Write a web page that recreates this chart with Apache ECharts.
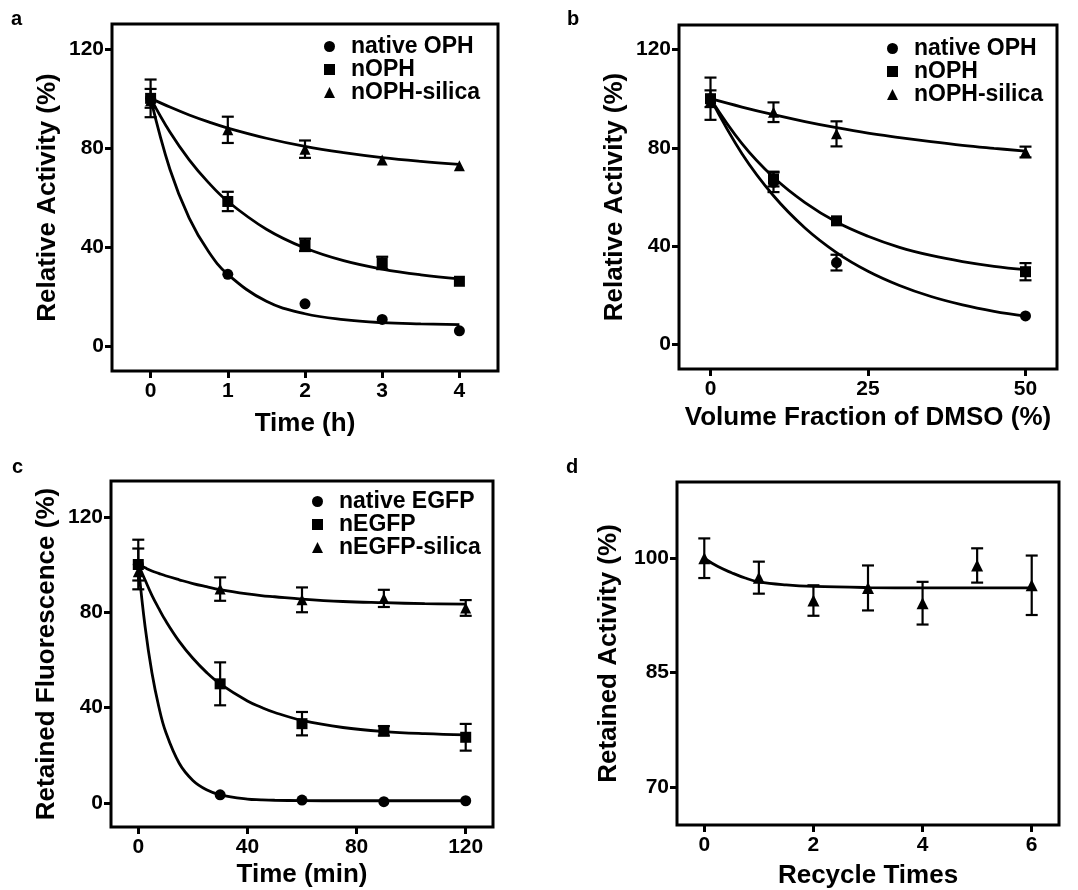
<!DOCTYPE html>
<html><head><meta charset="utf-8">
<script src="https://cdn.jsdelivr.net/npm/echarts@6/dist/echarts.min.js"></script>
<style>html,body{margin:0;padding:0;background:#fff}#c{width:1078px;height:890px}</style>
</head><body><div id="c"></div>
<script>
// ---------- Panel a: Time (h) ----------
const aX = [0, 1, 2, 3, 4];
const aNative = [100, 29, 17.1, 10.8, 6.2];
const aNativeErr = [3.8, 0, 0, 0, 0];
const aNOPH = [100, 58.4, 40.9, 33.6, 26.2];
const aNOPHErr = [7.6, 3.9, 2.5, 2.5, 0];
const aSilica = [99, 87.3, 79.5, 75.1, 72.8];
const aSilicaErr = [0, 5.3, 3.5, 0, 0];
const aFitX = [0, 0.25, 0.5, 0.75, 1, 1.5, 2, 2.5, 3, 3.5, 4];
const aFitNative = [100, 71.4, 51.7, 38.2, 29, 18.1, 13.1, 10.7, 9.5, 9.0, 8.7];
const aFitNOPH = [100, 86.4, 75.2, 66.0, 58.4, 47.2, 39.6, 34.5, 31.1, 28.8, 27.2];
const aFitSilica = [100, 96.5, 93.3, 90.5, 88, 83.9, 80.6, 78.1, 76.1, 74.6, 73.4];
const aXTicks = [0, 1, 2, 3, 4];
const aYTicks = [0, 40, 80, 120];

// ---------- Panel b: DMSO fraction (%) ----------
const bX = [0, 10, 20, 50];
const bNative = [100, 66, 33.3, 11.6];
const bNativeErr = [3.4, 4, 3.2, 0];
const bNOPH = [100, 67.3, 50.3, 29.6];
const bNOPHErr = [8.6, 3, 0, 3.5];
const bSilica = [99, 94.5, 85.7, 78.3];
const bSilicaErr = [0, 4, 5.1, 2.2];
const bFitX = [0, 5, 10, 15, 20, 25, 30, 35, 40, 45, 50];
const bFitNative = [100, 77.6, 60.5, 47.4, 37.4, 29.8, 24, 19.5, 16.1, 13.5, 11.5];
const bFitNOPH = [100, 81.7, 68, 57.7, 49.8, 44, 39.5, 36.2, 33.7, 31.8, 30.4];
const bFitSilica = [100, 96.6, 93.5, 90.7, 88.2, 86, 84.2, 82.5, 81, 79.8, 78.7];
const bXTicks = [0, 25, 50];
const bYTicks = [0, 40, 80, 120];

// ---------- Panel c: Time (min) ----------
const cX = [0, 30, 60, 90, 120];
const cNative = [100, 3.5, 1.3, 0.6, 1.0];
const cNativeErr = [6.7, 0, 0, 0, 0];
const cNEGFP = [100, 50, 33.3, 30.3, 27.6];
const cNEGFPErr = [10.4, 9, 4.9, 2, 5.6];
const cSilica = [97, 89.7, 85.2, 85.8, 81.8];
const cSilicaErr = [0, 4.9, 5.2, 3.6, 3.3];
const cFitX = [0, 2.5, 5, 7.5, 10, 15, 20, 25, 30, 40, 45, 50, 60, 75, 90, 105, 120];
const cFitNative = [100, 73.9, 54.6, 40.5, 30, 16.7, 9.5, 5.6, 3.5, 1.7, 1.4, 1.2, 1.05, 1, 1, 1, 1];
const cFitNEGFP = [100, 93.5, 87.1, 81.6, 76.5, 67.8, 60.7, 54.8, 50, 42.8, 40.2, 38, 34.7, 31.7, 30, 29.1, 28.6];
const cFitSilica = [100, 98.6, 97.3, 96.3, 95.3, 93.6, 92, 90.7, 89.5, 87.7, 87, 86.5, 85.5, 84.5, 84, 83.6, 83.4];
const cXTicks = [0, 40, 80, 120];
const cYTicks = [0, 40, 80, 120];

// ---------- Panel d: Recycle times ----------
const dX = [0, 1, 2, 3, 4, 5, 6];
const dVals = [100, 97.45, 94.45, 96.1, 94.1, 99.05, 96.45];
const dErr = [2.6, 2.1, 2, 2.95, 2.8, 2.25, 3.9];
const dFitX = [0, 0.25, 0.5, 0.75, 1, 1.5, 2, 3, 4, 5, 6];
const dFit = [100, 98.9, 98.1, 97.4, 96.9, 96.5, 96.3, 96.15, 96.1, 96.1, 96.1];
const dXTicks = [0, 2, 4, 6];
const dYTicks = [70, 85, 100];

const FONT = 'Liberation Sans, Arial, Helvetica, sans-serif';
const pairs = (xs, ys) => xs.map((x, i) => [x, ys[i]]);
const triples = (xs, ys, es) => xs.map((x, i) => [x, ys[i], es[i]]);

const grids = [
  { left: 112, top: 24, width: 386, height: 347 },
  { left: 679, top: 25, width: 378, height: 344 },
  { left: 111, top: 481, width: 382, height: 346 },
  { left: 677, top: 482, width: 382, height: 345 }
].map(g => Object.assign(g, { show: true, borderColor: '#000', borderWidth: 3, backgroundColor: 'transparent' }));

function xAx(gi, min, max, ticks, name, gap) {
  return {
    type: 'value', gridIndex: gi, min, max, name, nameLocation: 'middle', nameGap: gap,
    nameTextStyle: { fontFamily: FONT, fontWeight: 'bold', fontSize: 26, color: '#000' },
    axisLine: { show: false, onZero: false }, splitLine: { show: false },
    axisTick: { show: true, customValues: ticks, length: 7, lineStyle: { color: '#000', width: 3 } },
    axisLabel: { customValues: ticks, margin: 10, fontFamily: FONT, fontWeight: 'bold', fontSize: 21, color: '#000' }
  };
}
function yAx(gi, min, max, ticks, name, gap) {
  return {
    type: 'value', gridIndex: gi, min, max, name, nameLocation: 'middle', nameGap: gap,
    nameTextStyle: { fontFamily: FONT, fontWeight: 'bold', fontSize: 26, color: '#000' },
    axisLine: { show: false, onZero: false }, splitLine: { show: false },
    axisTick: { show: true, customValues: ticks, length: 7, lineStyle: { color: '#000', width: 3 } },
    axisLabel: { customValues: ticks, margin: 8, fontFamily: FONT, fontWeight: 'bold', fontSize: 21, color: '#000' }
  };
}

function renderErr(params, api) {
  const x = api.value(0), y = api.value(1), e = api.value(2);
  if (!e) return;
  const t = api.coord([x, y + e]), b = api.coord([x, y - e]);
  const hw = 6;
  const st = { stroke: '#000', lineWidth: 2.2 };
  return {
    type: 'group', children: [
      { type: 'line', shape: { x1: t[0], y1: t[1], x2: b[0], y2: b[1] }, style: st },
      { type: 'line', shape: { x1: t[0] - hw, y1: t[1], x2: t[0] + hw, y2: t[1] }, style: st },
      { type: 'line', shape: { x1: b[0] - hw, y1: b[1], x2: b[0] + hw, y2: b[1] }, style: st }
    ]
  };
}

const series = [];
function addSet(gi, name, sym, size, xs, ys, es, fx, fy) {
  series.push({ type: 'line', name: name + ' fit', xAxisIndex: gi, yAxisIndex: gi, data: pairs(fx, fy),
    smooth: 0.4, showSymbol: false, symbol: 'none', lineStyle: { color: '#000', width: 2.8 }, z: 2, silent: true });
  series.push({ type: 'custom', name: name + ' err', xAxisIndex: gi, yAxisIndex: gi, data: triples(xs, ys, es),
    renderItem: renderErr, z: 3, silent: true });
  series.push({ type: 'scatter', name, xAxisIndex: gi, yAxisIndex: gi, data: pairs(xs, ys), symbol: sym,
    symbolSize: size, itemStyle: { color: '#000', opacity: 1 }, z: 4, silent: true });
}
addSet(0, 'native OPH', 'circle', 11, aX, aNative, aNativeErr, aFitX, aFitNative);
addSet(0, 'nOPH', 'rect', 11, aX, aNOPH, aNOPHErr, aFitX, aFitNOPH);
addSet(0, 'nOPH-silica', 'triangle', 11, aX, aSilica, aSilicaErr, aFitX, aFitSilica);
addSet(1, 'native OPH ', 'circle', 11, bX, bNative, bNativeErr, bFitX, bFitNative);
addSet(1, 'nOPH ', 'rect', 11, bX, bNOPH, bNOPHErr, bFitX, bFitNOPH);
addSet(1, 'nOPH-silica ', 'triangle', 11, bX, bSilica, bSilicaErr, bFitX, bFitSilica);
addSet(2, 'native EGFP', 'circle', 11, cX, cNative, cNativeErr, cFitX, cFitNative);
addSet(2, 'nEGFP', 'rect', 11, cX, cNEGFP, cNEGFPErr, cFitX, cFitNEGFP);
addSet(2, 'nEGFP-silica', 'triangle', 11, cX, cSilica, cSilicaErr, cFitX, cFitSilica);
addSet(3, 'recycle', 'triangle', 12, dX, dVals, dErr, dFitX, dFit);

function legend(names, left, top) {
  return {
    left, top, orient: 'vertical', padding: 0, itemGap: 0, itemWidth: 11, itemHeight: 11, selectedMode: false,
    data: [{ name: names[0], icon: 'circle' }, { name: names[1], icon: 'rect' }, { name: names[2], icon: 'triangle' }],
    textStyle: { fontFamily: FONT, fontWeight: 'bold', fontSize: 23, color: '#000', lineHeight: 23, padding: [0, 0, 0, 11] },
    itemStyle: { color: '#000' }
  };
}

const panelLabel = (t, x, y) => ({ type: 'text', left: x, top: y,
  style: { text: t, fontFamily: FONT, fontWeight: 'bold', fontSize: 20, fill: '#000' } });

const option = {
  animation: false,
  backgroundColor: '#fff',
  grid: grids,
  xAxis: [
    xAx(0, -0.5, 4.5, aXTicks, 'Time (h)', 40),
    xAx(1, -5, 55, bXTicks, 'Volume Fraction of DMSO (%)', 36),
    xAx(2, -10, 130, cXTicks, 'Time (min)', 35),
    xAx(3, -0.5, 6.5, dXTicks, 'Recycle Times', 38)
  ],
  yAxis: [
    yAx(0, -10, 130, aYTicks, 'Relative Activity (%)', 51),
    yAx(1, -10, 130, bYTicks, 'Relative Activity (%)', 51),
    yAx(2, -10, 135, cYTicks, 'Retained Fluorescence (%)', 51),
    yAx(3, 65, 110, dYTicks, 'Retained Activity (%)', 55)
  ],
  legend: [
    legend(['native OPH', 'nOPH', 'nOPH-silica'], 324, 35),
    legend(['native OPH ', 'nOPH ', 'nOPH-silica '], 887, 37),
    legend(['native EGFP', 'nEGFP', 'nEGFP-silica'], 312, 490)
  ],
  graphic: [
    panelLabel('a', 11, 9),
    panelLabel('b', 567, 9),
    panelLabel('c', 12, 457),
    panelLabel('d', 566, 457)
  ],
  series
};
const chart = echarts.init(document.getElementById('c'), null, { renderer: 'canvas' });
chart.setOption(option);
</script></body></html>
